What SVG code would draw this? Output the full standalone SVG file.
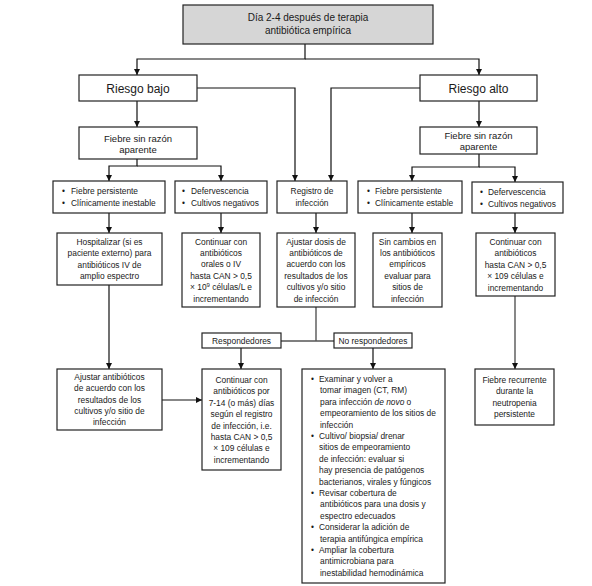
<svg xmlns="http://www.w3.org/2000/svg" width="592" height="586" viewBox="0 0 592 586">
<style>
.box{fill:#fff;stroke:#222;stroke-width:1.2}
.gray{fill:#d6d6d6;stroke:#222;stroke-width:1.2}
.t{font-family:"Liberation Sans",Arial,sans-serif;font-size:8.4px;fill:#1a1a1a}
.c{text-anchor:middle}
.m{font-size:10px}
.l{font-size:12px}
.f{font-size:9.5px}
.ln{fill:none;stroke:#111;stroke-width:1.2}
.lg{fill:none;stroke:#555;stroke-width:1.4}
.ar{marker-end:url(#ah)}
</style>
<defs>
<marker id="ah" markerUnits="userSpaceOnUse" markerWidth="6" markerHeight="6" refX="6" refY="3" orient="auto">
<path d="M0,0 L6,3 L0,6 z" fill="#111"/>
</marker>
</defs>
<g id="connectors">
<path class="ln ar" d="M305,44 V59 H137 V75"/>
<path class="ln ar" d="M305,59 H479 V75"/>
<path class="ln ar" d="M137,101 V127"/>
<path class="ln ar" d="M479,101 V127"/>
<path class="ln ar" d="M197,88 H295 V181"/>
<path class="ln ar" d="M420,88 H331 V181"/>
<path class="ln ar" d="M137,159 V166 H109 V181"/>
<path class="ln ar" d="M137,166 H221 V181"/>
<path class="ln ar" d="M479,154 V167 H412 V181"/>
<path class="ln ar" d="M479,167 H515 V182"/>
<path class="ln ar" d="M109,213 V233"/>
<path class="ln ar" d="M221,213 V233"/>
<path class="ln ar" d="M316,213 V233"/>
<path class="ln ar" d="M412,213 V233"/>
<path class="ln ar" d="M515,213 V233"/>
<path class="ln ar" d="M109,285 V369"/>
<path class="ln ar" d="M162,400 H202"/>
<path class="lg" d="M316,307 V341"/>
<path class="lg" d="M281,341 H334"/>
<path class="ln ar" d="M241,348 V369"/>
<path class="ln ar" d="M373,348 V369"/>
<path class="lg ar" d="M515,296 V369"/>
</g>
<g id="n-top">
<rect class="gray" x="183" y="5" width="250" height="39"/>
<text class="t c m" x="308" y="21">Día 2-4 después de terapia</text>
<text class="t c m" x="308" y="34">antibiótica empírica</text>
</g>
<g id="n-riesgo-bajo">
<rect class="box" x="79" y="75" width="118" height="26"/>
<text class="t c l" x="138" y="92.5">Riesgo bajo</text>
</g>
<g id="n-riesgo-alto">
<rect class="box" x="420" y="75" width="117" height="26"/>
<text class="t c l" x="478.5" y="92.5">Riesgo alto</text>
</g>
<g id="n-fiebre-bajo">
<rect class="box" x="79" y="127" width="118" height="32"/>
<text class="t c f" x="138" y="141.5">Fiebre sin razón</text>
<text class="t c f" x="138" y="153.3">aparente</text>
</g>
<g id="n-fiebre-alto">
<rect class="box" x="420" y="127" width="117" height="27"/>
<text class="t c f" x="478.5" y="138.5">Fiebre sin razón</text>
<text class="t c f" x="478.5" y="150">aparente</text>
</g>
<g id="n-a">
<rect class="box" x="53" y="181" width="112" height="32"/>
<text class="t" x="62" y="194">•</text><text class="t" x="71" y="194">Fiebre persistente</text>
<text class="t" x="62" y="206">•</text><text class="t" x="71" y="206">Clínicamente inestable</text>
</g>
<g id="n-b">
<rect class="box" x="175" y="181" width="92" height="32"/>
<text class="t" x="182" y="194">•</text><text class="t" x="191" y="194">Defervescencia</text>
<text class="t" x="182" y="206">•</text><text class="t" x="191" y="206">Cultivos negativos</text>
</g>
<g id="n-registro">
<rect class="box" x="277" y="181" width="70" height="32"/>
<text class="t c" x="312" y="194">Registro de</text>
<text class="t c" x="312" y="206">infección</text>
</g>
<g id="n-d">
<rect class="box" x="358" y="181" width="104" height="32"/>
<text class="t" x="367" y="194">•</text><text class="t" x="375" y="194">Fiebre persistente</text>
<text class="t" x="367" y="206">•</text><text class="t" x="375" y="206">Clínicamente estable</text>
</g>
<g id="n-e">
<rect class="box" x="472" y="182" width="91" height="31"/>
<text class="t" x="480" y="195">•</text><text class="t" x="488" y="195">Defervescencia</text>
<text class="t" x="480" y="206.5">•</text><text class="t" x="488" y="206.5">Cultivos negativos</text>
</g>
<g id="n-hospitalizar">
<rect class="box" x="57" y="233" width="105" height="52"/>
<text class="t c" x="109.5" y="244.7">Hospitalizar (si es</text>
<text class="t c" x="109.5" y="256.1">paciente externo) para</text>
<text class="t c" x="109.5" y="267.5">antibióticos IV de</text>
<text class="t c" x="109.5" y="278.9">amplio espectro</text>
</g>
<g id="n-continuar-b">
<rect class="box" x="182" y="233" width="78" height="74"/>
<text class="t c" x="221" y="244.5">Continuar con</text>
<text class="t c" x="221" y="255.9">antibióticos</text>
<text class="t c" x="221" y="267.3">orales o IV</text>
<text class="t c" x="221" y="278.7">hasta CAN &gt; 0,5</text>
<text class="t c" x="221" y="290.1">× 10<tspan font-size="6" dy="-3">9</tspan><tspan dy="3"> células/L e</tspan></text>
<text class="t c" x="221" y="301.5">incrementando</text>
</g>
<g id="n-ajustar-dosis">
<rect class="box" x="277" y="233" width="78" height="74"/>
<text class="t c" x="316" y="244.5">Ajustar dosis de</text>
<text class="t c" x="316" y="255.9">antibióticos de</text>
<text class="t c" x="316" y="267.3">acuerdo con los</text>
<text class="t c" x="316" y="278.7">resultados de los</text>
<text class="t c" x="316" y="290.1">cultivos y/o sitio</text>
<text class="t c" x="316" y="301.5">de infección</text>
</g>
<g id="n-sin-cambios">
<rect class="box" x="373" y="233" width="69" height="74"/>
<text class="t c" x="407.5" y="244.5">Sin cambios en</text>
<text class="t c" x="407.5" y="255.9">los antibióticos</text>
<text class="t c" x="407.5" y="267.3">empíricos</text>
<text class="t c" x="407.5" y="278.7">evaluar para</text>
<text class="t c" x="407.5" y="290.1">sitios de</text>
<text class="t c" x="407.5" y="301.5">infección</text>
</g>
<g id="n-continuar-e">
<rect class="box" x="476" y="233" width="79" height="63"/>
<text class="t c" x="515.5" y="245">Continuar con</text>
<text class="t c" x="515.5" y="256.4">antibióticos</text>
<text class="t c" x="515.5" y="267.8">hasta CAN &gt; 0,5</text>
<text class="t c" x="515.5" y="279.2">× 109 células e</text>
<text class="t c" x="515.5" y="290.6">incrementando</text>
</g>
<g id="n-respondedores">
<rect class="box" x="202" y="333" width="79" height="15"/>
<text class="t c" x="241.5" y="344">Respondedores</text>
</g>
<g id="n-no-respondedores">
<rect class="box" x="334" y="333" width="78" height="15"/>
<text class="t c" x="373" y="344">No respondedores</text>
</g>
<g id="n-ajustar-antibioticos">
<rect class="box" x="57" y="369" width="105" height="61"/>
<text class="t c" x="109.5" y="379.7">Ajustar antibióticos</text>
<text class="t c" x="109.5" y="391.1">de acuerdo con los</text>
<text class="t c" x="109.5" y="402.5">resultados de los</text>
<text class="t c" x="109.5" y="413.9">cultivos y/o sitio de</text>
<text class="t c" x="109.5" y="425.3">infección</text>
</g>
<g id="n-continuar-resp">
<rect class="box" x="202" y="369" width="79" height="101"/>
<text class="t c" x="241.5" y="383">Continuar con</text>
<text class="t c" x="241.5" y="394.4">antibióticos por</text>
<text class="t c" x="241.5" y="405.8">7-14 (o más) días</text>
<text class="t c" x="241.5" y="417.2">según el registro</text>
<text class="t c" x="241.5" y="428.6">de infección, i.e.</text>
<text class="t c" x="241.5" y="440">hasta CAN &gt; 0,5</text>
<text class="t c" x="241.5" y="451.4">× 109 células e</text>
<text class="t c" x="241.5" y="462.8">incrementando</text>
</g>
<g id="n-no-resp-acciones">
<rect class="box" x="302" y="369" width="143" height="214"/>
<text class="t" x="311" y="382">•</text><text class="t" x="319" y="382">Examinar y volver a</text>
<text class="t" x="320" y="393.4">tomar imagen (CT, RM)</text>
<text class="t" x="320" y="404.8">para infección <tspan font-style="italic">de novo</tspan> o</text>
<text class="t" x="320" y="416.2">empeoramiento de los sitios de</text>
<text class="t" x="320" y="427.6">infección</text>
<text class="t" x="311" y="439">•</text><text class="t" x="319" y="439">Cultivo/ biopsia/ drenar</text>
<text class="t" x="319" y="450.4">sitios de empeoramiento</text>
<text class="t" x="319" y="461.8">de infección: evaluar si</text>
<text class="t" x="319" y="473.2">hay presencia de patógenos</text>
<text class="t" x="319" y="484.6">bacterianos, virales y fúngicos</text>
<text class="t" x="311" y="496">•</text><text class="t" x="319" y="496">Revisar cobertura de</text>
<text class="t" x="320" y="507.4">antibióticos para una dosis y</text>
<text class="t" x="320" y="518.8">espectro edecuados</text>
<text class="t" x="311" y="530.2">•</text><text class="t" x="319" y="530.2">Considerar la adición de</text>
<text class="t" x="320" y="541.6">terapia antifúngica empírica</text>
<text class="t" x="311" y="553">•</text><text class="t" x="319" y="553">Ampliar la cobertura</text>
<text class="t" x="320" y="564.4">antimicrobiana para</text>
<text class="t" x="320" y="575.8">inestabilidad hemodinámica</text>
</g>
<g id="n-fiebre-recurrente">
<rect class="box" x="475" y="369" width="79" height="56"/>
<text class="t c" x="514.5" y="383">Fiebre recurrente</text>
<text class="t c" x="514.5" y="394.4">durante la</text>
<text class="t c" x="514.5" y="405.8">neutropenia</text>
<text class="t c" x="514.5" y="417.2">persistente</text>
</g>
</svg>
